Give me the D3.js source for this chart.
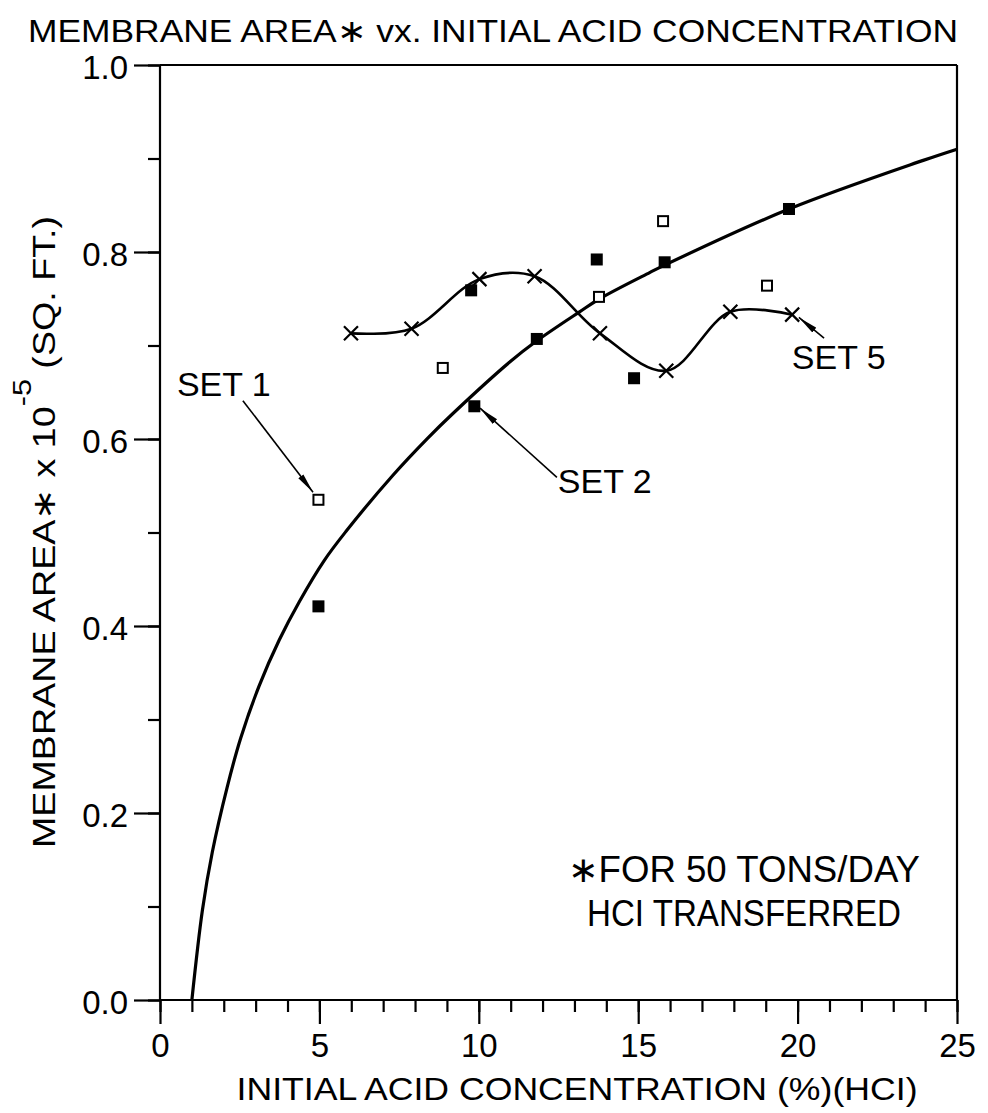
<!DOCTYPE html>
<html><head><meta charset="utf-8">
<script src="https://cdn.jsdelivr.net/npm/d3@7"></script>
<style>html,body{margin:0;padding:0;background:#fff;}svg{display:block;}</style>
</head><body>
<script>
// ---- data ----
const xMajorTicks = [0,5,10,15,20,25];
const yMajorTicks = [0,0.2,0.4,0.6,0.8,1.0];
// main fitted curve
const curveX = [1.0,1.33,1.64,2.11,2.53,3.11,3.74,4.37,5.15,5.83,7.3,8.4,9.18,10.96,11.82,13.16,13.79,15.36,15.83,19.73,23.94,25.0];
const curveY = [0.0,0.096,0.158,0.228,0.28,0.336,0.385,0.426,0.47,0.501,0.561,0.601,0.627,0.682,0.705,0.736,0.75,0.778,0.786,0.846,0.898,0.91];
// open squares (Set 1)
const set1X = [4.97,8.87,13.77,15.78,19.04];
const set1Y = [0.535,0.676,0.752,0.833,0.764];
// filled squares (Set 2)
const set2X = [4.97,9.76,9.86,11.82,13.7,14.87,15.83,19.73];
const set2Y = [0.421,0.759,0.635,0.707,0.792,0.665,0.789,0.846];
// crosses (Set 5)
const set5X = [5.99,7.89,10.02,11.75,13.8,15.88,17.89,19.83];
const set5Y = [0.713,0.718,0.771,0.774,0.713,0.673,0.736,0.733];
// labels and arrows (data units)
const labelText = ["SET 1","SET 2","SET 5"];
const labelX = [0.53,12.48,19.82];
const labelY = [0.646,0.5426,0.6745];
const arrowFromX = [2.60,12.45,20.83];
const arrowFromY = [0.641,0.559,0.708];
const arrowToX = [4.80,10.04,20.04];
const arrowToY = [0.543,0.633,0.730];
const noteLines = ["\u2217FOR 50 TONS/DAY","HCI TRANSFERRED"];
const noteX = 18.32;
const noteY = [0.1265,0.079];

const W = 988, H = 1113;
const FONT = "'Liberation Sans', Arial, sans-serif";
const svg = d3.select("body").append("svg").attr("width",W).attr("height",H)
  .style("font-family",FONT);

const x = d3.scaleLinear().domain([0,25]).range([160,957]);
const y = d3.scaleLinear().domain([0,1]).range([1000,65]);

// arrow marker
svg.append("defs").append("marker")
  .attr("id","ah").attr("markerUnits","userSpaceOnUse")
  .attr("viewBox","0 -4 22 8").attr("refX",20).attr("refY",0)
  .attr("markerWidth",22).attr("markerHeight",8).attr("orient","auto")
  .append("path").attr("d","M0,-3.2L20,0L0,3.2Z").attr("fill","#000");

// frame
const frame = svg.append("g").attr("stroke","#000").attr("stroke-width",2.2).attr("fill","none");
frame.append("line").attr("x1",x(0)).attr("x2",x(25)).attr("y1",y(1)).attr("y2",y(1));
frame.append("line").attr("x1",x(25)).attr("x2",x(25)).attr("y1",y(1)).attr("y2",y(0));
frame.append("line").attr("x1",x(0)).attr("x2",x(0)).attr("y1",y(1)).attr("y2",y(0));
frame.append("line").attr("x1",x(0)).attr("x2",x(25)).attr("y1",y(0)).attr("y2",y(0));

// x axis
const gx = svg.append("g").attr("transform",`translate(0,${y(0)})`);
gx.append("g").call(d3.axisBottom(x).tickValues(d3.range(0,26,1)).tickSize(12).tickFormat(""))
  .call(g=>g.select(".domain").remove());
gx.append("g").call(d3.axisBottom(x).tickValues(xMajorTicks).tickSize(24).tickPadding(10).tickFormat(d3.format("d")))
  .call(g=>g.select(".domain").remove());
gx.selectAll("line").attr("stroke","#000").attr("stroke-width",2.2);
gx.selectAll("text").attr("font-size",33).attr("font-family",FONT).attr("fill","#000");

// y axis
const gy = svg.append("g").attr("transform",`translate(${x(0)},0)`);
gy.append("g").call(d3.axisLeft(y).tickValues(d3.range(0,11).map(d=>d/10)).tickSize(12).tickFormat(""))
  .call(g=>g.select(".domain").remove());
gy.append("g").call(d3.axisLeft(y).tickValues(yMajorTicks).tickSize(26).tickPadding(6).tickFormat(d3.format(".1f")))
  .call(g=>g.select(".domain").remove());
gy.selectAll("line").attr("stroke","#000").attr("stroke-width",2.2);
gy.selectAll("text").attr("font-size",33).attr("font-family",FONT).attr("fill","#000").attr("dy","0.4em");

// title
svg.append("text").attr("x",493).attr("y",42).attr("text-anchor","middle")
  .attr("font-size",32).attr("textLength",930).attr("lengthAdjust","spacingAndGlyphs")
  .text("MEMBRANE AREA\u2217 vx. INITIAL ACID CONCENTRATION");

// x label
svg.append("text").attr("x",577).attr("y",1100).attr("text-anchor","middle")
  .attr("font-size",32).attr("textLength",681).attr("lengthAdjust","spacingAndGlyphs")
  .text("INITIAL ACID CONCENTRATION (%)(HCI)");

// y label
const yl = svg.append("text").attr("transform","translate(55,532) rotate(-90)")
  .attr("text-anchor","middle").attr("font-size",32)
  .attr("textLength",632).attr("lengthAdjust","spacingAndGlyphs");
yl.append("tspan").text("MEMBRANE AREA\u2217 x 10");
yl.append("tspan").attr("dy",-24).attr("font-size",26).text("-5");
yl.append("tspan").attr("dy",24).text(" (SQ. FT.)");

// main curve
const curvePts = curveX.map((d,i)=>[d,curveY[i]]);
svg.append("path").datum(curvePts)
  .attr("d",d3.line().x(d=>x(d[0])).y(d=>y(d[1])).curve(d3.curveCatmullRom.alpha(0.5)))
  .attr("fill","none").attr("stroke","#000").attr("stroke-width",3.2);

// set 5 curve
const s5 = set5X.map((d,i)=>[d,set5Y[i]]);
svg.append("path").datum(s5)
  .attr("d",d3.line().x(d=>x(d[0])).y(d=>y(d[1])).curve(d3.curveCatmullRom.alpha(0.5)))
  .attr("fill","none").attr("stroke","#000").attr("stroke-width",2.6);

// set 5 crosses
const cs = 7;
svg.append("g").selectAll("path").data(s5).join("path")
  .attr("d",d=>{const cx=x(d[0]),cy=y(d[1]);return `M${cx-cs},${cy-cs}L${cx+cs},${cy+cs}M${cx-cs},${cy+cs}L${cx+cs},${cy-cs}`;})
  .attr("stroke","#000").attr("stroke-width",2.2).attr("fill","none");

// set 1 open squares
const s1 = set1X.map((d,i)=>[d,set1Y[i]]);
svg.append("g").selectAll("rect").data(s1).join("rect")
  .attr("x",d=>x(d[0])-5).attr("y",d=>y(d[1])-5).attr("width",10).attr("height",10)
  .attr("fill","#fff").attr("stroke","#000").attr("stroke-width",2);

// set 2 filled squares
const s2 = set2X.map((d,i)=>[d,set2Y[i]]);
svg.append("g").selectAll("rect").data(s2).join("rect")
  .attr("x",d=>x(d[0])-6).attr("y",d=>y(d[1])-6).attr("width",12).attr("height",12)
  .attr("fill","#000");

// arrows
svg.append("g").selectAll("line").data(arrowFromX).join("line")
  .attr("x1",(d,i)=>x(d)).attr("y1",(d,i)=>y(arrowFromY[i]))
  .attr("x2",(d,i)=>x(arrowToX[i])).attr("y2",(d,i)=>y(arrowToY[i]))
  .attr("stroke","#000").attr("stroke-width",1.6).attr("marker-end","url(#ah)");

// set labels
svg.append("g").selectAll("text").data(labelText).join("text")
  .attr("x",(d,i)=>x(labelX[i])).attr("y",(d,i)=>y(labelY[i]))
  .attr("font-size",34).text(d=>d);

// note
svg.append("g").selectAll("text").data(noteLines).join("text")
  .attr("x",x(noteX)).attr("y",(d,i)=>y(noteY[i])).attr("text-anchor","middle")
  .attr("font-size",36).attr("textLength",(d,i)=>[352,314][i]).attr("lengthAdjust","spacingAndGlyphs")
  .text(d=>d);
</script>
</body></html>
